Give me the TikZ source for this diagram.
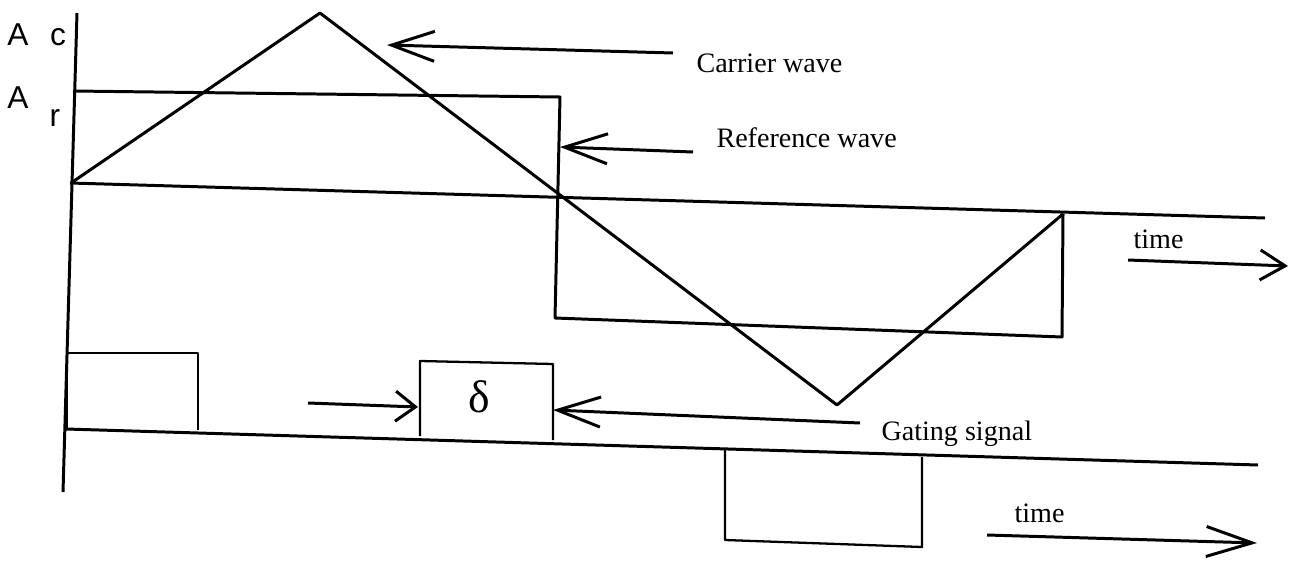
\documentclass[tikz,border=0pt]{standalone}
\usepackage{fontspec}
\setmainfont{Liberation Serif}
\newfontfamily\axisfont{Liberation Sans}
\usetikzlibrary{arrows.meta}
\begin{document}
\begin{tikzpicture}[x=0.02cm, y=-0.02cm, line width=1.7pt, line join=round,
  every node/.style={font=\fontsize{16}{18}\selectfont, inner sep=0pt},
  lbl/.style={anchor=base west},
  amp/.style={font=\axisfont\fontsize{18}{20}\selectfont},
  pulse/.style={line width=1.3pt},
  barb/.style={-{Straight Barb[length=#1, width=6mm]}}]
  \useasboundingbox (0,0) rectangle (1297,561);
  % PWM: triangular carrier against square reference
  \node[amp] (ac) at (18,35) {A};
  \node[amp] (acsub) at (58,37) {c};
  \node[amp] (ar) at (18,98) {A};
  \node[amp] (arsub) at (55,118) {r};
  \draw (77,13) -- (63,492);
  \draw (70,183) -- (1265,218);
  \draw (73,91) -- (560,97) -- (555,318) -- (1062,337) -- (1063,214);
  \draw (71,183) -- (320,13) -- (837,405) -- (1063,214);
  % gating signal
  \draw (66,429) -- (1258,465);
  \draw[pulse] (67,429) -- (67,353) -- (198,353) -- (198,430);
  \draw[pulse] (420,436) -- (420,361) -- (553,364) -- (553,440);
  \draw[pulse] (725,448) -- (725,540) -- (922,547) -- (922,457);
  \node (dlt) at (479,397) {\fontsize{26}{28}\selectfont δ};
  \node[lbl] (carrlbl) at (695,72) {Carrier wave};
  \node[lbl] (reflbl) at (715,147) {Reference wave};
  \node[lbl] (gatelbl) at (880,440) {Gating signal};
  \node[lbl] (timeup) at (1132,248) {time};
  \node[lbl] (timelow) at (1013,522) {time};
  \coordinate (carrtail) at (673,53);   \coordinate (carrtip) at (387,45);
  \coordinate (reftail) at (693,152);   \coordinate (reftip) at (560,147);
  \coordinate (gatetail) at (860,423);  \coordinate (gatetip) at (553,410);
  \coordinate (dlttail) at (308,403);   \coordinate (dlttip) at (418,407);
  \coordinate (tupstart) at (1128,260); \coordinate (tupend) at (1288,266);
  \coordinate (tlowstart) at (987,535); \coordinate (tlowend) at (1257,543);
  \foreach \a/\b/\l in {carrtail/carrtip/8.6mm, reftail/reftip/8.6mm,
      gatetail/gatetip/8.6mm, dlttail/dlttip/4mm, tupstart/tupend/5mm,
      tlowstart/tlowend/9.2mm}
    \draw[barb=\l] (\a) -- (\b);
\end{tikzpicture}
\end{document}
